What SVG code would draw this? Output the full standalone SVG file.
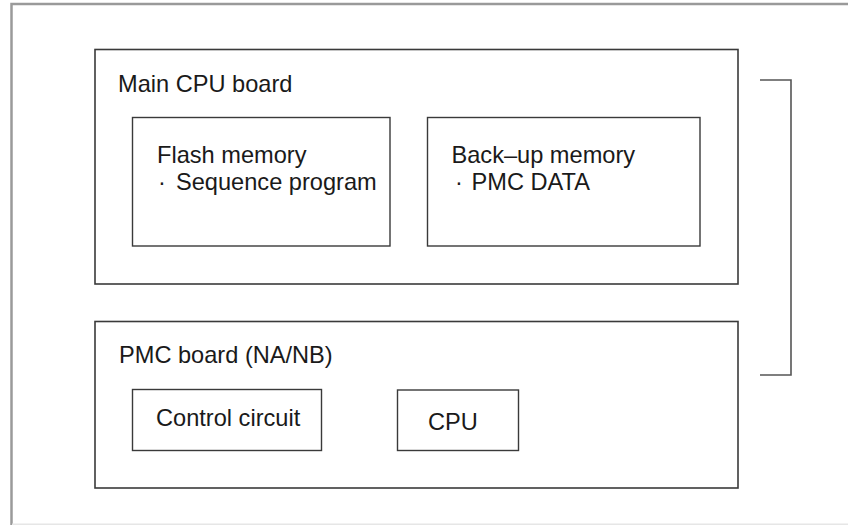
<svg xmlns="http://www.w3.org/2000/svg" width="848" height="525" viewBox="0 0 848 525">
<style>
.box{fill:none;stroke:#3a3a3a;stroke-width:1.6}
.inner{fill:none;stroke:#3a3a3a;stroke-width:1.4}
.frame{fill:none;stroke:#9a9a9a;stroke-width:2.5}
.frame-bottom{fill:none;stroke:#e6e6e6;stroke-width:1.5}
.conn{fill:none;stroke:#555;stroke-width:1.6}
text{font-family:"Liberation Sans",Arial,sans-serif;font-size:23.6px;fill:#1a1a1a}
</style>
<path class="frame" d="M848 4 H11.5 V525"/>
<path class="frame-bottom" d="M12 524.3 H848"/>
<g id="main-cpu-board">
<rect class="box" x="95" y="49.5" width="643" height="234.5"/>
<text x="118" y="91.5">Main CPU board</text>
</g>
<g id="flash-memory">
<rect class="inner" x="132.5" y="117.5" width="257.5" height="128.5"/>
<text x="157" y="163"><tspan x="157">Flash memory</tspan><tspan x="158" y="190">·</tspan><tspan x="176" y="190">Sequence program</tspan></text>
</g>
<g id="backup-memory">
<rect class="inner" x="427.5" y="117.5" width="272.5" height="128.5"/>
<text x="451.5" y="163"><tspan x="451.5">Back–up memory</tspan><tspan x="455" y="190">·</tspan><tspan x="471.5" y="190">PMC DATA</tspan></text>
</g>
<g id="pmc-board">
<rect class="box" x="95" y="321.5" width="643" height="166.5"/>
<text x="119" y="363">PMC board (NA/NB)</text>
</g>
<g id="control-circuit">
<rect class="inner" x="132.5" y="389.5" width="189" height="61"/>
<text x="156" y="426">Control circuit</text>
</g>
<g id="cpu">
<rect class="inner" x="397.5" y="390" width="121" height="60.5"/>
<text x="428" y="429.5">CPU</text>
</g>
<g id="connectors">
<path class="conn" d="M760 80 H791 V375 H760"/>
</g>
</svg>
